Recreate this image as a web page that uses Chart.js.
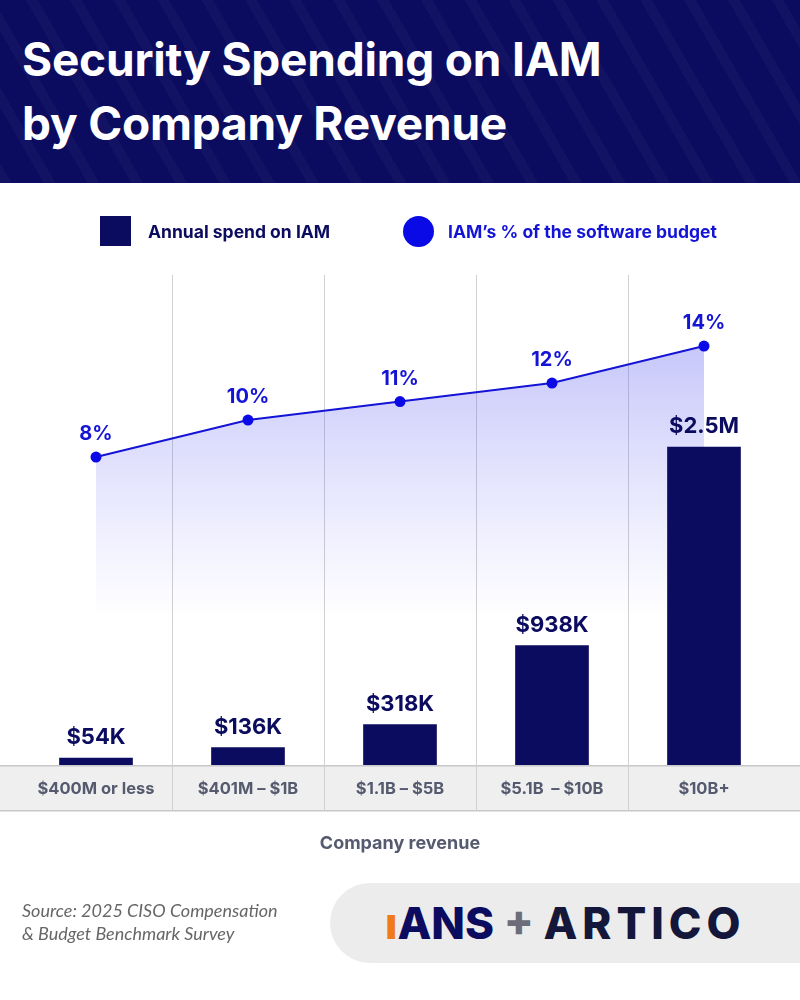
<!DOCTYPE html>
<html><head><meta charset="utf-8">
<script src="https://cdn.jsdelivr.net/npm/chart.js@4"></script>
<style>
body{margin:0;width:800px;height:1000px;position:relative;background:#fff;font-family:Lato,"Noto Sans",sans-serif;overflow:hidden}
#hdr{position:absolute;left:0;top:0;width:800px;height:183px;background:#0b0b5f;
background-image:repeating-linear-gradient(60deg,rgba(255,255,255,0.03) 0 10px,transparent 10px 38px);}
#hdr h1{position:absolute;left:22px;top:27px;margin:0;color:#fff;font-family:Inter,Lato,sans-serif;font-weight:700;font-size:46px;line-height:64px;letter-spacing:-0.2px}
#cv{position:absolute;left:0;top:0}
.leg{position:absolute;top:216px;font-family:Inter,sans-serif;font-weight:700;font-size:17.5px}
#src{position:absolute;left:22px;top:899px;font-family:Lato,sans-serif;font-style:italic;font-size:18px;line-height:23px;color:#666}
#pill{position:absolute;left:330px;top:883px;width:480px;height:80px;background:#ececec;border-radius:40px 0 0 40px}
#logo{position:absolute;left:385px;top:897px;font-family:Inter,sans-serif;font-weight:800;font-size:44px;line-height:52px;white-space:nowrap}
</style></head><body>
<canvas id="cv" width="800" height="1000"></canvas>
<div id="hdr"><h1>Security Spending on IAM<br>by Company Revenue</h1></div>
<div class="leg" style="left:100px"><span style="display:inline-block;width:31px;height:30px;background:#0b0b5f;vertical-align:middle;margin-right:17px"></span><span style="color:#0b0b5f;vertical-align:middle">Annual spend on IAM</span></div>
<div class="leg" style="left:403px"><span style="display:inline-block;width:31px;height:31px;border-radius:50%;background:#0a0ae6;vertical-align:middle;margin-right:14px"></span><span style="color:#1414d6;vertical-align:middle">IAM’s % of the software budget</span></div>
<div id="src">Source: 2025 CISO Compensation<br>&amp; Budget Benchmark Survey</div>
<div id="pill"></div>
<div id="logo"><span style="color:#0b0b5f"><span style="color:#f07a1a">ı</span>ANS</span> <span style="color:#6d6d7a">+</span> <span style="color:#14163a;letter-spacing:5px">ARTICO</span></div>
<script>
const categories=["$400M or less","$401M – $1B","$1.1B – $5B","$5.1B  – $10B","$10B+"];
const spendK=[54,136,318,938,2500];
const spendLabels=["$54K","$136K","$318K","$938K","$2.5M"];
const pct=[8,10,11,12,14];
const pctLabels=["8%","10%","11%","12%","14%"];

const band={id:'band',beforeDraw(c){const x=c.ctx,a=c.chartArea;x.save();x.fillStyle='#efefef';x.fillRect(0,a.bottom,800,46);
x.fillStyle='#c8c8c8';x.fillRect(0,a.bottom,800,1.5);x.fillRect(0,a.bottom+45,800,1.5);
x.strokeStyle='#d0d0d0';x.lineWidth=1;const s=c.scales.x;for(let i=1;i<categories.length;i++){const p=Math.round((s.getPixelForValue(i-1)+s.getPixelForValue(i))/2)+0.5;x.beginPath();x.moveTo(p,a.top);x.lineTo(p,a.bottom+46);x.stroke();}
x.restore();},
afterDatasetsDraw(c){const x=c.ctx;x.save();x.textAlign='center';x.textBaseline='alphabetic';
x.font='700 22px Inter';x.fillStyle='#0b0b5f';c.getDatasetMeta(1).data.forEach((b,i)=>x.fillText(spendLabels[i],b.x,b.y-14));
x.font='700 20px Inter';x.fillStyle='#1414d6';c.getDatasetMeta(0).data.forEach((p,i)=>x.fillText(pctLabels[i],p.x,p.y-17));
x.fillStyle='#555a6e';x.font='700 16.5px Inter';const a=c.chartArea;categories.forEach((t,i)=>x.fillText(t,c.scales.x.getPixelForValue(i),a.bottom+29));
x.font='700 18px Inter';x.fillText('Company revenue',400,849);x.restore();}};

new Chart(document.getElementById('cv'),{
data:{labels:categories,datasets:[
{type:'line',data:pct,yAxisID:'y2',borderColor:'#1414d6',borderWidth:2,pointRadius:5.5,pointBackgroundColor:'#0a0ae6',pointBorderWidth:0,tension:0,order:1,
fill:'start',backgroundColor(ctx){const c=ctx.chart;if(!c.chartArea)return 'rgba(0,0,0,0)';const g=c.ctx.createLinearGradient(0,340,0,620);g.addColorStop(0,'rgba(90,90,240,0.35)');g.addColorStop(1,'rgba(120,120,255,0)');return g;}},
{type:'bar',data:spendK,yAxisID:'y',backgroundColor:'#0b0b5f',barThickness:73,order:0}]},
options:{responsive:false,animation:false,layout:{padding:{left:20,right:20,top:275,bottom:235}},
plugins:{legend:{display:false},tooltip:{enabled:false}},
scales:{x:{display:false,offset:true},y:{display:false,min:0,max:3852},y2:{display:false,min:-8.65,max:17.84}}},
plugins:[band]});
</script></body></html>
